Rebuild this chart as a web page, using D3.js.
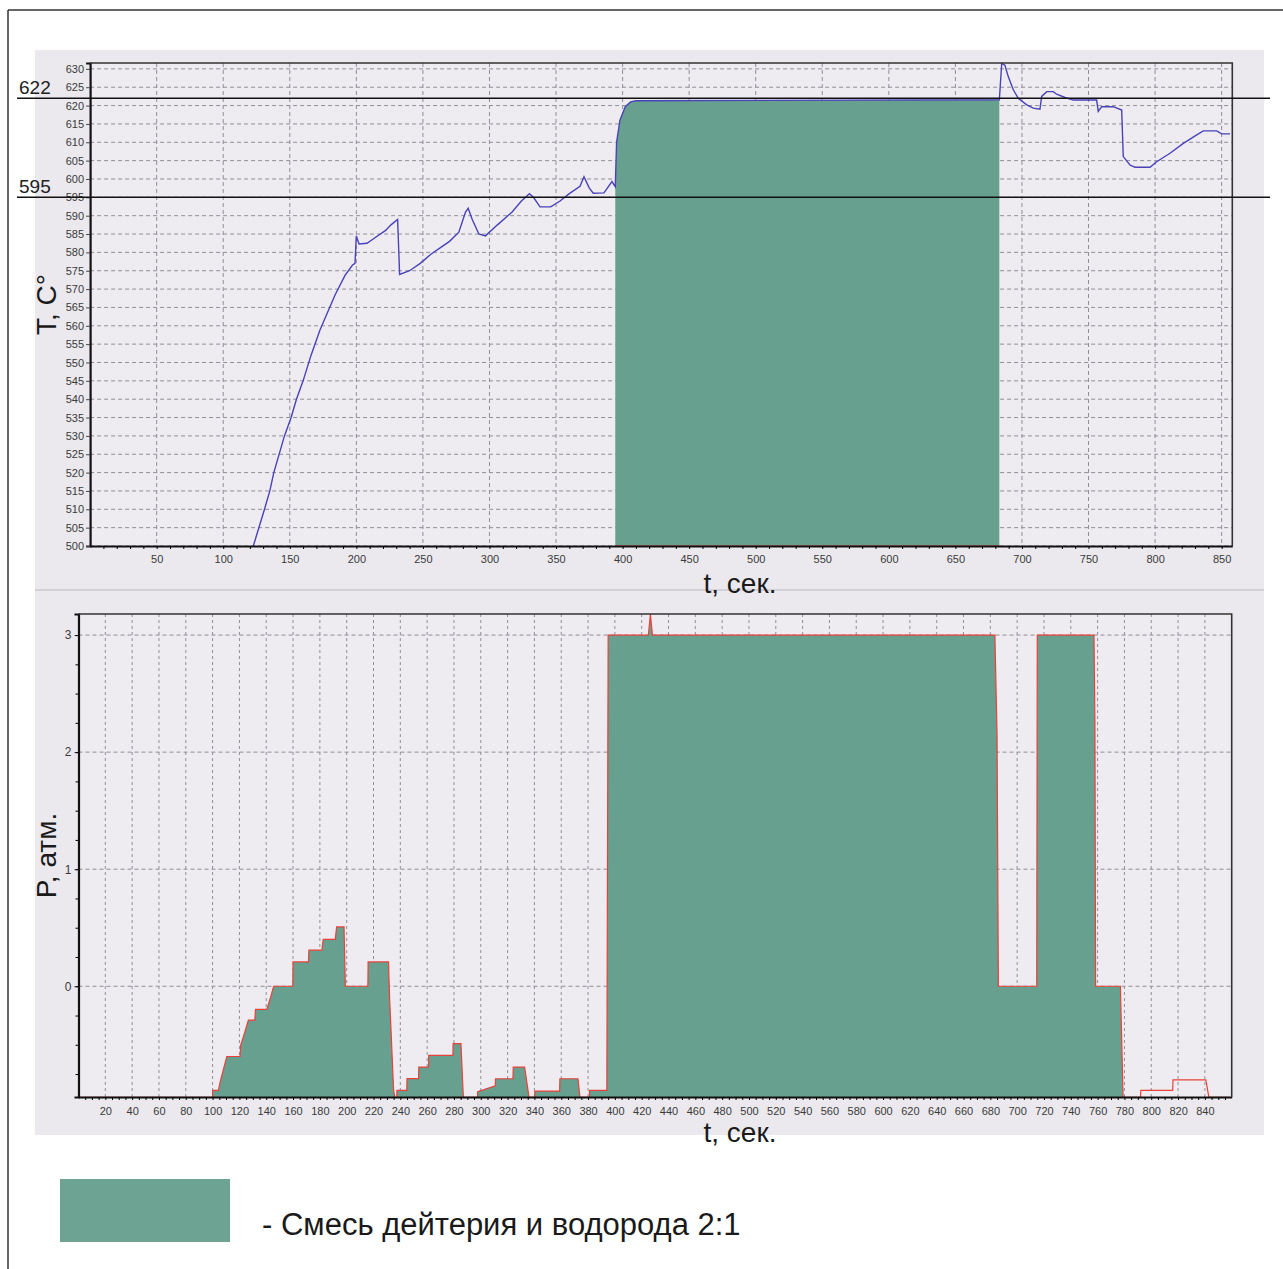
<!DOCTYPE html>
<html>
<head>
<meta charset="utf-8">
<script src="https://cdn.jsdelivr.net/npm/d3@7"></script>
<style>
  html, body { margin: 0; padding: 0; background: #ffffff; }
  svg { display: block; font-family: "Liberation Sans", Arial, sans-serif; }
</style>
</head>
<body>
<svg id="chart" width="1283" height="1269"></svg>
<script>
// Temperature record, T (°C) against time t (s)
const tempTime = [122.6, 131, 135, 138, 146, 151, 155, 160, 166, 172.6, 184, 191.6, 197, 199, 200, 202, 208, 214, 222, 226, 231,
  232.5, 240, 248, 256, 264, 270, 277, 282, 284, 287, 292, 297, 306, 317, 324, 330, 333, 338, 346, 353, 360, 368, 371, 375, 378,
  386, 392, 394.5, 395.5, 398, 402, 406, 410, 683, 684.8, 687.2, 689.7, 693.5, 697.2, 703.6, 708.5, 713.5, 714.8, 718.6, 723.5,
  726.1, 732.3, 738.6, 756.1, 757.3, 759.9, 768.6, 774.9, 776.1, 781.1, 784.9, 796.2, 801.2, 811.2, 821.2, 831.3, 836.2, 846.3,
  850, 856.3];
const tempVal = [500, 510, 515, 520, 530, 535, 540, 545, 552, 558.8, 568.4, 573.8, 576.5, 577, 584.5, 582.3, 582.5, 584, 586, 587.5, 589,
  574, 575, 577, 579.5, 581.5, 583, 585.5, 591, 592, 589, 585, 584.5, 587.5, 591, 594, 596, 595, 592.4, 592.4, 594, 596, 598, 600.6, 597.5, 596.1,
  596.2, 599.3, 597.9, 610, 616, 619.7, 621, 621.3, 621.6, 631.5, 631, 627.9, 624.3, 622, 620.2, 619.3, 619, 622.5, 623.8, 623.8,
  623.1, 622.2, 621.5, 621.5, 618.4, 619.7, 619.7, 618.8, 606.1, 603.8, 603.2, 603.2, 604.7, 607, 609.7, 612, 613.1, 613.1,
  612.3, 612.3];

// Pressure record, P (atm) against time t (s)
const pressTime = [0, 100, 100.1, 104.3, 106, 110.6, 120.5, 121, 123, 126.7, 131.5, 132, 140.4, 143, 145.5, 159.8, 160, 171.5, 171.8,
  181.5, 182.5, 191.5, 192.5, 198, 199, 215.8, 216, 231.2, 232, 235, 236, 237.4, 237.5, 244.8, 245, 253.6, 253.8, 261, 261.2,
  279.2, 279.4, 285.2, 287, 297.6, 297.7, 310.8, 311, 324, 324.2, 332.7, 336, 340.2, 340.3, 358.8, 359, 372.5, 374, 381, 381.1,
  394, 395, 425, 426.5, 428, 683.4, 685, 686, 714.6, 715, 757.3, 758, 758.5, 777, 779, 792, 792.2, 816, 816.2, 840.7, 843, 858];
const pressVal = [-0.95, -0.95, -0.89, -0.89, -0.8, -0.6, -0.6, -0.5, -0.43, -0.29, -0.29, -0.197, -0.197, -0.105, 0, 0, 0.208, 0.208, 0.308,
  0.308, 0.4, 0.4, 0.507, 0.507, 0, 0, 0.208, 0.208, -0.1, -0.89, -0.95, -0.95, -0.889, -0.889, -0.789, -0.789, -0.69, -0.69, -0.59,
  -0.59, -0.49, -0.49, -0.95, -0.95, -0.9, -0.85, -0.79, -0.79, -0.69, -0.69, -0.95, -0.95, -0.895, -0.895, -0.79, -0.79, -0.95, -0.95, -0.889,
  -0.889, 3, 3, 3.18, 3, 3, 2.15, 0, 0, 3, 3, 2.25, 0, 0, -0.95, -0.95, -0.89, -0.89, -0.8, -0.8, -0.95, -0.95];

// Interval during which the deuterium–hydrogen mixture is supplied
const mixTopStart = 394.5, mixTopEnd = 683;
const mixBottomEnd = 779;

// Axis ticks
const tempTicks = d3.range(500, 631, 5);
const tempTimeTicks = d3.range(50, 851, 50);
const pressTicks = [0, 1, 2, 3];
const pressTimeTicks = d3.range(20, 841, 20);
const refLevels = [622, 595];

const legendText = "- Смесь дейтерия и водорода 2:1";

const GREEN = "#67a08f";
const BLUE = "#4a42b8";
const RED = "#e8413a";
const GRID = "#8f8f96";

const svg = d3.select("#chart");

// page frame
svg.append("line").attr("x1", 8).attr("x2", 8).attr("y1", 10).attr("y2", 1269).attr("stroke", "#333").attr("stroke-width", 1.5);
svg.append("line").attr("x1", 8).attr("x2", 1283).attr("y1", 10).attr("y2", 10).attr("stroke", "#333").attr("stroke-width", 1.5);

// panels
svg.append("rect").attr("x", 35).attr("y", 50).attr("width", 1229).attr("height", 539).attr("fill", "#ebe9ee");
svg.append("rect").attr("x", 35).attr("y", 591).attr("width", 1229).attr("height", 544).attr("fill", "#ebe9ee");
svg.append("line").attr("x1", 35).attr("x2", 1264).attr("y1", 590).attr("y2", 590).attr("stroke", "#d2d1d6").attr("stroke-width", 2);

// ---------- temperature chart ----------
const xT = d3.scaleLinear([0, 858], [90.1, 1232.3]);
const yT = d3.scaleLinear([500, 631.6], [546, 63]);
const temp = tempTime.map((t, i) => ({t, v: tempVal[i]}));

const gT = svg.append("g");
gT.append("rect").attr("x", xT(0)).attr("y", yT(631.6)).attr("width", xT(858) - xT(0)).attr("height", yT(500) - yT(631.6)).attr("fill", "#eeecf1");

svg.append("clipPath").attr("id", "clipT").append("rect")
  .attr("x", xT(0)).attr("y", yT(631.6) - 1).attr("width", xT(858) - xT(0)).attr("height", yT(500) - yT(631.6) + 1);

// grid
gT.append("g").selectAll("line").data(tempTicks).join("line")
  .attr("x1", xT(0)).attr("x2", xT(858)).attr("y1", d => yT(d)).attr("y2", d => yT(d))
  .attr("stroke", GRID).attr("stroke-dasharray", "4,3").attr("stroke-width", 1);
gT.append("g").selectAll("line").data(tempTimeTicks).join("line")
  .attr("x1", d => xT(d)).attr("x2", d => xT(d)).attr("y1", yT(631.6)).attr("y2", yT(500))
  .attr("stroke", GRID).attr("stroke-dasharray", "4,3").attr("stroke-width", 1);

// mixture fill under the temperature curve
const mixTemp = temp.filter(d => d.t >= mixTopStart && d.t <= mixTopEnd);
gT.append("path").datum(mixTemp)
  .attr("clip-path", "url(#clipT)")
  .attr("fill", GREEN)
  .attr("d", d3.area().x(d => xT(d.t)).y0(yT(500)).y1(d => yT(d.v)));
gT.append("line").attr("x1", xT(mixTopStart)).attr("x2", xT(mixTopEnd)).attr("y1", yT(500) - 0.5).attr("y2", yT(500) - 0.5)
  .attr("stroke", RED).attr("stroke-width", 1).attr("opacity", 0.6);

// temperature curve
gT.append("path").datum(temp)
  .attr("clip-path", "url(#clipT)")
  .attr("fill", "none").attr("stroke", BLUE).attr("stroke-width", 1.4)
  .attr("d", d3.line().x(d => xT(d.t)).y(d => yT(d.v)));

// axes
const axTy = gT.append("g").attr("transform", `translate(${xT(0)},0)`)
  .call(d3.axisLeft(yT).tickValues(tempTicks).tickSize(4).tickPadding(2));
const axTx = gT.append("g").attr("transform", `translate(0,${yT(500)})`)
  .call(d3.axisBottom(xT).tickValues(tempTimeTicks).tickSize(0).tickPadding(9));
gT.append("g").attr("transform", `translate(0,${yT(500)})`)
  .call(d3.axisBottom(xT).tickValues(d3.range(10, 858, 10)).tickSize(3).tickFormat(""))
  .call(g => g.select(".domain").remove());
[axTy, axTx].forEach(a => {
  a.selectAll("text").attr("fill", "#3a3a3a").attr("font-size", 11).attr("font-family", "Liberation Sans, Arial, sans-serif");
  a.select(".domain").attr("stroke", "#111").attr("stroke-width", 2.2);
  a.selectAll(".tick line").attr("stroke", "#444");
});
// top and right border
gT.append("path").attr("d", `M${xT(0)},${yT(631.6)}H${xT(858)}V${yT(500)}`)
  .attr("fill", "none").attr("stroke", "#333").attr("stroke-width", 1.6);

// reference levels
gT.append("g").selectAll("line").data(refLevels).join("line")
  .attr("x1", 17).attr("x2", 1270).attr("y1", d => yT(d)).attr("y2", d => yT(d))
  .attr("stroke", "#111").attr("stroke-width", 1.5);
gT.append("g").selectAll("text").data(refLevels).join("text")
  .attr("x", 19).attr("y", d => yT(d) - 4)
  .attr("font-size", 19).attr("fill", "#222").text(d => d);

// titles
svg.append("text").attr("transform", `translate(56,${(yT(500) + yT(631.6)) / 2}) rotate(-90)`)
  .attr("text-anchor", "middle").attr("font-size", 28).attr("fill", "#1a1a1a").text("T, C°");
svg.append("text").attr("x", 740).attr("y", 593).attr("text-anchor", "middle")
  .attr("font-size", 28).attr("fill", "#1a1a1a").text("t, сек.");

// ---------- pressure chart ----------
const xP = d3.scaleLinear([0, 860], [78.5, 1231.7]);
const yP = d3.scaleLinear([-0.946, 3.18], [1097, 614]);
const press = pressTime.map((t, i) => ({t, v: pressVal[i]}));

const gP = svg.append("g");
gP.append("rect").attr("x", xP(0)).attr("y", yP(3.18)).attr("width", xP(860) - xP(0)).attr("height", yP(-0.946) - yP(3.18)).attr("fill", "#eeecf1");
svg.append("clipPath").attr("id", "clipP").append("rect")
  .attr("x", xP(0)).attr("y", yP(3.18) - 1).attr("width", xP(860) - xP(0)).attr("height", yP(-0.946) - yP(3.18) + 1);

gP.append("g").selectAll("line").data(pressTicks).join("line")
  .attr("x1", xP(0)).attr("x2", xP(860)).attr("y1", d => yP(d)).attr("y2", d => yP(d))
  .attr("stroke", GRID).attr("stroke-dasharray", "4,3");
gP.append("g").selectAll("line").data(pressTimeTicks).join("line")
  .attr("x1", d => xP(d)).attr("x2", d => xP(d)).attr("y1", yP(3.18)).attr("y2", yP(-0.946))
  .attr("stroke", GRID).attr("stroke-dasharray", "3,3");

const mixPress = press.filter(d => d.t <= mixBottomEnd);
gP.append("path").datum(mixPress)
  .attr("clip-path", "url(#clipP)")
  .attr("fill", GREEN)
  .attr("d", d3.area().x(d => xP(d.t)).y0(yP(-0.946)).y1(d => yP(d.v)));
gP.append("path").datum(press)
  .attr("clip-path", "url(#clipP)")
  .attr("fill", "none").attr("stroke", RED).attr("stroke-width", 1.2)
  .attr("d", d3.line().x(d => xP(d.t)).y(d => yP(d.v)));

const axPy = gP.append("g").attr("transform", `translate(${xP(0)},0)`)
  .call(d3.axisLeft(yP).tickValues(pressTicks).tickFormat(d3.format("d")).tickSize(4).tickPadding(3));
gP.append("g").attr("transform", `translate(${xP(0)},0)`)
  .call(d3.axisLeft(yP).tickValues(d3.range(-0.75, 3.1, 0.25)).tickSize(3).tickFormat(""))
  .call(g => g.select(".domain").remove());
const axPx = gP.append("g").attr("transform", `translate(0,${yP(-0.946)})`)
  .call(d3.axisBottom(xP).tickValues(pressTimeTicks).tickSize(0).tickPadding(10));
gP.append("g").attr("transform", `translate(0,${yP(-0.946)})`)
  .call(d3.axisBottom(xP).tickValues(d3.range(5, 860, 5)).tickSize(3).tickFormat(""))
  .call(g => g.select(".domain").remove());
[axPy, axPx].forEach(a => {
  a.selectAll("text").attr("fill", "#3a3a3a").attr("font-size", 11).attr("font-family", "Liberation Sans, Arial, sans-serif");
  a.select(".domain").attr("stroke", "#111").attr("stroke-width", 2.2);
  a.selectAll(".tick line").attr("stroke", "#444");
});
axPy.selectAll("text").attr("font-size", 12);
gP.append("path").attr("d", `M${xP(0)},${yP(3.18)}H${xP(860)}V${yP(-0.946)}`)
  .attr("fill", "none").attr("stroke", "#333").attr("stroke-width", 1.6);

svg.append("text").attr("transform", `translate(56,${(yP(-0.946) + yP(3.18)) / 2}) rotate(-90)`)
  .attr("text-anchor", "middle").attr("font-size", 28).attr("fill", "#1a1a1a").text("P, атм.");
svg.append("text").attr("x", 740).attr("y", 1142).attr("text-anchor", "middle")
  .attr("font-size", 28).attr("fill", "#1a1a1a").text("t, сек.");

// ---------- legend ----------
svg.append("rect").attr("x", 60).attr("y", 1179).attr("width", 170).attr("height", 63).attr("fill", "#6ca393");
svg.append("text").attr("x", 262).attr("y", 1235).attr("font-size", 31).attr("fill", "#1a1a1a").text(legendText);
</script>
</body>
</html>
